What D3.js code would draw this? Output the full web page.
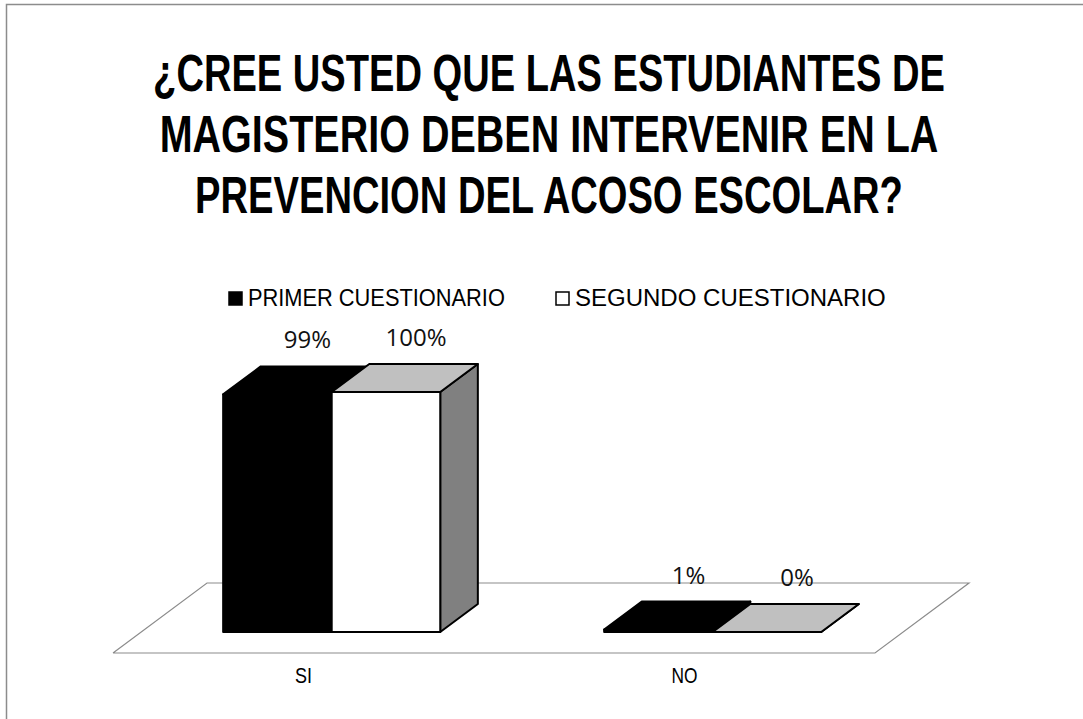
<!DOCTYPE html>
<html>
<head>
<meta charset="utf-8">
<script src="https://cdn.jsdelivr.net/npm/d3@7/dist/d3.min.js"></script>
<style>
  html, body { margin: 0; padding: 0; background: #fff; }
  svg { display: block; }
</style>
</head>
<body>
<svg id="chart" width="1083" height="719"></svg>
<script>
const titleLines = [
  '¿CREE USTED QUE LAS ESTUDIANTES DE',
  'MAGISTERIO DEBEN INTERVENIR EN LA',
  'PREVENCION DEL ACOSO ESCOLAR?'
];
const categories = ['SI', 'NO'];
const seriesNames = ['PRIMER CUESTIONARIO', 'SEGUNDO CUESTIONARIO'];
const primerValues = [0.99, 0.01];
const segundoValues = [1.00, 0.00];

// no narrow font installed -> squeeze Liberation Sans horizontally
const narrow = '"Liberation Sans", Arial, sans-serif';
const titleWidths = [792, 779, 708];
const svg = d3.select('#chart');
const W = 1083, H = 719;

// squeeze a text element to a given width, anchored at (x, y)
function squeeze(sel, x, y, width, anchor) {
  const natural = sel.node().getComputedTextLength();
  const k = width / natural;
  sel.attr('x', null).attr('y', null)
    .attr('text-anchor', anchor)
    .attr('transform', `translate(${x},${y}) scale(${k},1)`);
}

// outer border (chart area runs off the right / bottom)
svg.append('rect')
  .attr('x', 6.5).attr('y', 4.5)
  .attr('width', W + 20).attr('height', H + 20)
  .attr('fill', '#fff')
  .attr('stroke', '#8c8c8c')
  .attr('stroke-width', 1.5);

// title
titleLines.forEach((line, i) => {
  const t = svg.append('text')
    .style('font-family', narrow)
    .style('font-weight', 'bold')
    .style('font-size', '52px')
    .text(line);
  squeeze(t, 549, 91 + i * 61, titleWidths[i], 'middle');
});

// floor geometry
const floor = { left: 113, right: 875, front: 653, dx: 94, dy: -70 };
const zFront = 0.3, zBack = 0.7;

const x0 = d3.scaleBand().domain(categories).range([floor.left, floor.right]);
const x1 = d3.scaleBand().domain(seriesNames).range([0, x0.bandwidth()]).paddingOuter(0.755);

const baseY = floor.front + floor.dy * zFront;
const y = d3.scaleLinear().domain([0, 1]).range([baseY, baseY - 240]);

const depthX = floor.dx * (zBack - zFront);
const depthY = floor.dy * (zBack - zFront);
const offX = floor.dx * zFront;

// floor plane
svg.append('path')
  .attr('d', d3.line()([
    [floor.left, floor.front],
    [floor.right, floor.front],
    [floor.right + floor.dx, floor.front + floor.dy],
    [floor.left + floor.dx, floor.front + floor.dy],
    [floor.left, floor.front]
  ]))
  .attr('fill', '#fff')
  .attr('stroke', '#8c8c8c')
  .attr('stroke-width', 1.2);

const styles = [
  { front: '#000', top: '#000', side: '#000' },
  { front: '#fff', top: '#c0c0c0', side: '#808080' }
];

const bars = [];
categories.forEach((c, ci) => {
  [primerValues, segundoValues].forEach((vals, si) => {
    bars.push({ cat: c, series: seriesNames[si], si, value: vals[ci] });
  });
});

const g = svg.append('g').attr('stroke', '#000').attr('stroke-width', 2).attr('stroke-linejoin', 'round');

bars.forEach(b => {
  const xl = x0(b.cat) + x1(b.series) + offX;
  const xr = xl + x1.bandwidth();
  const yt = y(b.value);
  const yb = y(0);
  const st = styles[b.si];
  // side face
  g.append('path')
    .attr('d', d3.line()([[xr, yb], [xr + depthX, yb + depthY], [xr + depthX, yt + depthY], [xr, yt]]) + 'Z')
    .attr('fill', st.side);
  // front face
  g.append('path')
    .attr('d', d3.line()([[xl, yb], [xr, yb], [xr, yt], [xl, yt]]) + 'Z')
    .attr('fill', st.front);
  // top face
  g.append('path')
    .attr('d', d3.line()([[xl, yt], [xr, yt], [xr + depthX, yt + depthY], [xl + depthX, yt + depthY]]) + 'Z')
    .attr('fill', st.top);
  // data label
  svg.append('text')
    .attr('x', (xl + xr) / 2 + depthX * 0.8)
    .attr('y', yt - 46)
    .attr('text-anchor', 'middle')
    .style('font-family', '"Open Sans", "Liberation Sans", sans-serif')
    .style('font-size', '24px')
    .attr('fill', '#111')
    .text(d3.format('.0%')(b.value));
});

// category labels
const catWidths = [17, 26];
categories.forEach((c, i) => {
  const t = svg.append('text')
    .style('font-family', narrow)
    .style('font-size', '22px')
    .text(c);
  squeeze(t, x0(c) + x0.bandwidth() / 2, 683, catWidths[i], 'middle');
});

// legend
const legendX = [228, 555];
const legendWidths = [257, 311];
seriesNames.forEach((s, i) => {
  svg.append('rect')
    .attr('x', legendX[i] + 1).attr('y', 292)
    .attr('width', 13).attr('height', 13)
    .attr('fill', styles[i].front)
    .attr('stroke', '#000').attr('stroke-width', 1.5);
  const t = svg.append('text')
    .style('font-family', narrow)
    .style('font-size', '23px')
    .text(s);
  squeeze(t, legendX[i] + 20, 306, legendWidths[i], 'start');
});
</script>
</body>
</html>
